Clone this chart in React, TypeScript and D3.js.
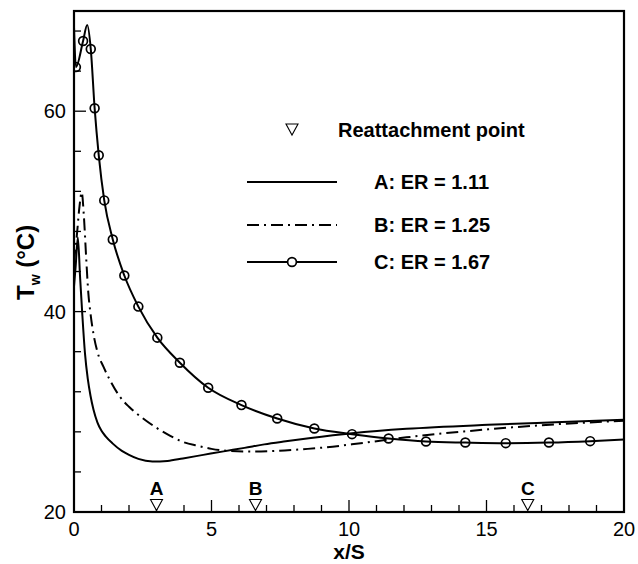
import React from 'react';
import * as d3 from 'd3';

// Series A: ER = 1.11 (solid)
const aX = [0, 0.06, 0.14, 0.22, 0.3, 0.4, 0.5, 0.6, 0.71, 0.85, 1.0, 1.15, 1.4, 1.74, 2.0, 2.34, 2.85, 3.4, 3.96, 4.7, 5.44, 6.2, 6.92, 7.7, 8.54, 10.11, 12.09, 15.05, 17.5, 20];
const aT = [42.5, 44.5, 47.4, 43.5, 39.8, 35.8, 33.3, 31.6, 30.2, 28.95, 28.1, 27.55, 26.85, 26.1, 25.7, 25.3, 25.05, 25.1, 25.35, 25.7, 26.05, 26.4, 26.75, 27.05, 27.35, 27.85, 28.3, 28.7, 28.95, 29.2];

// Series B: ER = 1.25 (dash-dot)
const bX = [0, 0.1, 0.2, 0.28, 0.36, 0.44, 0.52, 0.6, 0.7, 0.85, 1.07, 1.3, 1.67, 2.0, 2.48, 3.0, 3.5, 3.96, 4.5, 5.0, 5.6, 6.2, 6.8, 7.66, 8.5, 9.14, 10.1, 12.09, 15.05, 17.5, 20];
const bT = [45, 47.5, 50.5, 51.9, 49.5, 45.5, 41.9, 39.8, 37.9, 36.0, 34.5, 33.2, 31.5, 30.5, 29.4, 28.4, 27.6, 27.0, 26.6, 26.3, 26.1, 26.05, 26.05, 26.15, 26.3, 26.45, 26.75, 27.45, 28.25, 28.75, 29.1];

// Series C: ER = 1.67 (solid with circles)
const cX = [0, 0.07, 0.33, 0.48, 0.61, 0.75, 0.9, 1.1, 1.41, 1.83, 2.34, 3.03, 3.85, 4.88, 6.09, 7.39, 8.74, 10.11, 11.44, 12.8, 14.23, 15.7, 17.27, 18.77, 20];
const cT = [68.4, 64.4, 67.0, 68.6, 66.2, 60.3, 55.6, 51.1, 47.2, 43.6, 40.5, 37.4, 34.9, 32.4, 30.67, 29.33, 28.33, 27.77, 27.33, 27.03, 26.93, 26.87, 26.93, 27.07, 27.23];
const cMarked = [1, 2, 4, 5, 6, 7, 8, 9, 10, 11, 12, 13, 14, 15, 16, 17, 18, 19, 20, 21, 22, 23];

// Reattachment points
const reX = [3.0, 6.6, 16.5];
const reLabels = ['A', 'B', 'C'];

// Legend labels
const legendLabels = ['A: ER = 1.11', 'B: ER = 1.25', 'C: ER = 1.67'];

// Ticks
const xMajor = [0, 5, 10, 15, 20];
const xMinor = d3.range(0, 21, 1);
const yMajor = [20, 40, 60];
const yMinor = d3.range(20, 71, 4);

const W = 638, H = 564;
const L = 74, R = 624, T = 11, B = 512;
const FONT = 'Liberation Sans, Arial, Helvetica, sans-serif';

export default function App() {
  const x = d3.scaleLinear().domain([0, 20]).range([L, R]);
  const y = d3.scaleLinear().domain([20, 70]).range([B, T]);
  const line = d3.line<[number, number]>().x(d => x(d[0])).y(d => y(d[1])).curve(d3.curveMonotoneX);
  const aPts = aX.map((v, i) => [v, aT[i]] as [number, number]);
  const bPts = bX.map((v, i) => [v, bT[i]] as [number, number]);
  const cPts = cX.map((v, i) => [v, cT[i]] as [number, number]);

  const tri = (cx: number, tipY: number, w: number, h: number) =>
    `M${cx - w / 2},${tipY - h} L${cx + w / 2},${tipY - h} L${cx},${tipY} Z`;

  const legX0 = 247, legX1 = 337, legTextX = 374;
  const legRowsY = [182, 225, 262];

  return (
    <svg width={W} height={H} style={{ position: 'absolute', left: 0, top: 0, background: '#fff' }} fontFamily={FONT}>
      <rect x={0} y={0} width={W} height={H} fill="#fff" />
      <defs>
        <clipPath id="plot"><rect x={L} y={T} width={R - L} height={B - T} /></clipPath>
      </defs>
      {/* curves */}
      <g clipPath="url(#plot)" fill="none" stroke="#000">
        <path d={line(aPts) || ''} strokeWidth={2} />
        <path d={line(bPts) || ''} strokeWidth={2} strokeDasharray="12,5,2,5" />
        <path d={line(cPts) || ''} strokeWidth={2} />
        {cMarked.map(i => (
          <circle key={i} cx={x(cX[i])} cy={y(cT[i])} r={4.4} fill="none" stroke="#000" strokeWidth={1.7} />
        ))}
      </g>
      {/* ticks */}
      <g stroke="#000" strokeWidth={1.3}>
        {xMinor.map(v => (
          <line key={'xm' + v} x1={x(v)} x2={x(v)} y1={B} y2={B - (xMajor.includes(v) ? 12 : 7)} />
        ))}
        {yMinor.map(v => (
          <line key={'ym' + v} x1={L} x2={L + (yMajor.includes(v) ? 12 : 7)} y1={y(v)} y2={y(v)} />
        ))}
      </g>
      {/* frame */}
      <rect x={L} y={T} width={R - L} height={B - T} fill="none" stroke="#000" strokeWidth={2.2} />
      {/* tick labels */}
      <g fontSize={20} fill="#000">
        {xMajor.map(v => (
          <text key={'xl' + v} x={x(v)} y={536} textAnchor="middle">{v}</text>
        ))}
        {yMajor.map(v => (
          <text key={'yl' + v} x={66} y={y(v) + 7} textAnchor="end">{v}</text>
        ))}
      </g>
      {/* axis titles */}
      <text x={x(10)} y={559} textAnchor="middle" fontSize={21} fontWeight="bold">x/S</text>
      <text transform={`translate(34,300) rotate(-90)`} textAnchor="start" fontSize={24} fontWeight="bold">
        T<tspan fontSize={14} dy={6}>w</tspan><tspan dy={-6}> (°C)</tspan>
      </text>
      {/* reattachment markers */}
      {reX.map((v, i) => (
        <g key={'re' + i}>
          <path d={tri(x(v), B - 1.5, 12, 11)} fill="#fff" stroke="#000" strokeWidth={1.1} />
          <text x={x(v)} y={495} textAnchor="middle" fontSize={19} fontWeight="bold">{reLabels[i]}</text>
        </g>
      ))}
      {/* legend */}
      <path d={tri(292, 135, 12, 11)} fill="#fff" stroke="#000" strokeWidth={1.1} />
      <text x={338} y={137} fontSize={20} fontWeight="bold">Reattachment point</text>
      <line x1={legX0} x2={legX1} y1={legRowsY[0]} y2={legRowsY[0]} stroke="#000" strokeWidth={2} />
      <line x1={legX0} x2={legX1} y1={legRowsY[1]} y2={legRowsY[1]} stroke="#000" strokeWidth={2} strokeDasharray="12,5,2,5" />
      <line x1={legX0} x2={legX1} y1={legRowsY[2]} y2={legRowsY[2]} stroke="#000" strokeWidth={2} />
      <circle cx={(legX0 + legX1) / 2} cy={legRowsY[2]} r={4.4} fill="#fff" stroke="#000" strokeWidth={1.7} />
      {legendLabels.map((s, i) => (
        <text key={s} x={legTextX} y={legRowsY[i] + 7} fontSize={20} fontWeight="bold">{s}</text>
      ))}
    </svg>
  );
}
